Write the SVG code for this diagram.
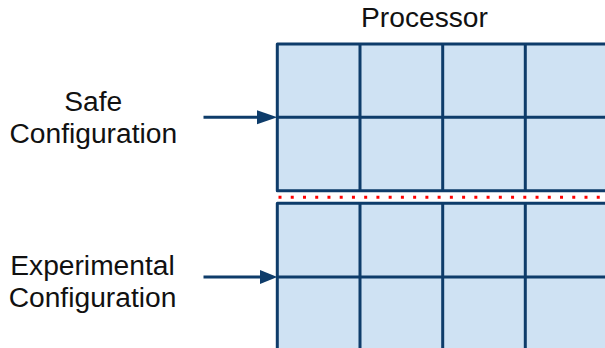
<svg xmlns="http://www.w3.org/2000/svg" width="605" height="348" viewBox="0 0 605 348">
  <style>
    .lbl { font-family: "Liberation Sans", Arial, sans-serif; font-size: 28.2px; fill: #111; text-anchor: middle; }
    .grid { fill: #cfe2f3; stroke: #0e3c6a; stroke-width: 3; stroke-linejoin: round; }
    .gl { stroke: #0e3c6a; stroke-width: 3; fill: none; }
    .conn { stroke: #0e3c6a; stroke-width: 3; fill: none; }
    .divider { stroke: #ff0000; stroke-width: 3; stroke-dasharray: 3 9.24; fill: none; }
  </style>
  <rect width="605" height="348" fill="#ffffff"/>

  <g id="processor-label">
    <text class="lbl" x="424.5" y="26.7">Processor</text>
  </g>

  <g id="safe-region">
    <rect class="grid" x="277.3" y="44" width="340" height="146.7"/>
    <path class="gl" d="M277.3,117.3 H610 M360,44 V190.7 M442.7,44 V190.7 M525.3,44 V190.7"/>
  </g>

  <g id="experimental-region">
    <rect class="grid" x="277.3" y="203.3" width="340" height="160"/>
    <path class="gl" d="M277.3,277 H610 M360,203.3 V360 M442.7,203.3 V360 M525.3,203.3 V360"/>
  </g>

  <g id="divider">
    <path class="divider" d="M278.5,197.3 H605"/>
  </g>

  <g id="safe-configuration">
    <text class="lbl" x="93.3" y="111.3">Safe</text>
    <text class="lbl" x="93.3" y="142.8">Configuration</text>
  </g>

  <g id="experimental-configuration">
    <text class="lbl" x="92.5" y="275.3">Experimental</text>
    <text class="lbl" x="92.5" y="306.8">Configuration</text>
  </g>

  <g id="connectors">
    <path class="conn" d="M203.5,117.3 H262" />
    <path d="M257,110.3 L277.3,117.3 L257,124.3 Z" fill="#0e3c6a"/>
    <path class="conn" d="M203.5,277 H262" />
    <path d="M260,270 L277.3,277 L260,284 Z" fill="#0e3c6a"/>
  </g>
</svg>
